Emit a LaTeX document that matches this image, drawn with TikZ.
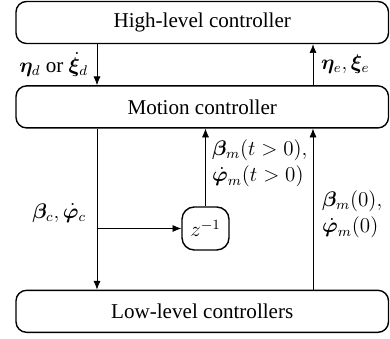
\documentclass[tikz,border=0pt]{standalone}
\usepackage{fontspec}
\setmainfont{Liberation Serif}
\usepackage{bm}
\usetikzlibrary{arrows.meta,positioning,calc}
\tikzset{
  block/.style={draw,thick,rounded corners=6pt,minimum width=7.45cm,
    minimum height=0.84cm,align=center,font=\fontsize{12}{14}\selectfont},
  delay/.style={draw,thick,rounded corners=7pt,minimum width=0.94cm,
    minimum height=0.86cm,align=center,font=\fontsize{12}{14}\selectfont},
  lbl/.style={align=left,inner sep=1pt,font=\fontsize{12}{15}\selectfont},
  arrow/.style={-{Latex[length=5pt,width=4pt]},thin}
}

\begin{document}
\begin{tikzpicture}[node distance=0.82cm]

\useasboundingbox (0,0) rectangle (7.8,6.76);

\node[block] (high) at (4.045,6.31) {High-level controller};
\node[block,below=0.82cm of high] (motion) {Motion controller};
\node[block,below=3.22cm of motion] (low) {Low-level controllers};
\node[delay] (zinv) at (4.11,2.19) {$z^{-1}$};

% signal lines
\coordinate (xl) at (1.94,0);
\coordinate (xr) at (6.26,0);

\draw[arrow] (high.south -| xl) -- (motion.north -| xl);
\draw[arrow] (motion.north -| xr) -- (high.south -| xr);
\draw[arrow] (motion.south -| xl) -- (low.north -| xl);
\draw[arrow] (zinv.west -| xl) -- (zinv.west);
\draw[arrow] (zinv.north) -- (motion.south -| zinv.north);
\draw[arrow] (low.north -| xr) -- (motion.south -| xr);

% labels
\node[lbl,anchor=east] (ref) at (1.8,5.47) {$\bm{\eta}_d$ or $\dot{\bm{\xi}}_d$};
\node[lbl,anchor=west] (est) at (6.38,5.47) {$\bm{\eta}_e,\bm{\xi}_e$};
\node[lbl,anchor=east] (cmd) at (1.76,2.5) {$\bm{\beta}_c,\dot{\bm{\varphi}}_c$};
\node[lbl,anchor=west] (meas) at (4.2,3.49)
  {$\bm{\beta}_m(t>0),$\\$\dot{\bm{\varphi}}_m(t>0)$};
\node[lbl,anchor=west] (init) at (6.4,2.47)
  {$\bm{\beta}_m(0),$\\$\dot{\bm{\varphi}}_m(0)$};

\end{tikzpicture}
\end{document}
